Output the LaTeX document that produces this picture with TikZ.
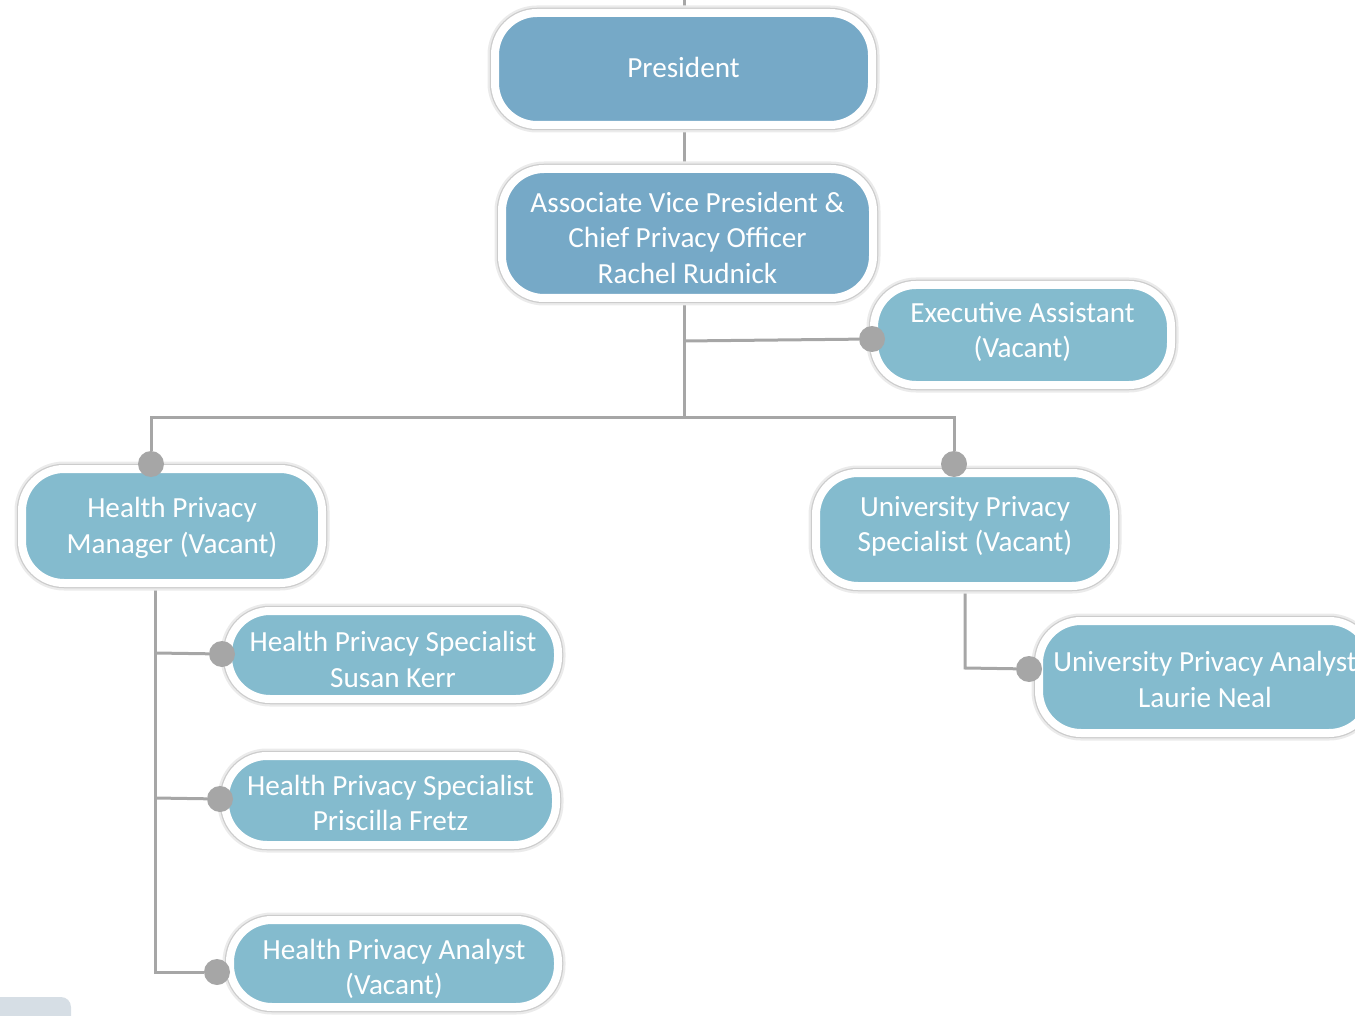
\documentclass[tikz,border=0pt]{standalone}
\usepackage{fontspec}
\setmainfont{Carlito}
\usetikzlibrary{backgrounds}
\definecolor{boxdark}{RGB}{118,169,199}
\definecolor{boxlight}{RGB}{132,187,206}
\definecolor{conn}{RGB}{166,166,166}
\definecolor{cornergray}{RGB}{214,222,229}
\tikzset{
  orgbox/.style={rectangle, rounded corners=42, draw=white, line width=8,
    fill=boxlight, text=white, align=center,
    font=\fontsize{29.2}{35.5}\selectfont, inner sep=0pt,
    preaction={draw=black!8, line width=15},
    preaction={draw=black!20, line width=10.5}},
  darkbox/.style={orgbox, fill=boxdark},
  drop/.style={text height=#1, text depth=0pt},
  dot/.style={circle, fill=conn, draw=none, minimum size=26, inner sep=0pt},
  connector/.style={draw=conn, line width=3},
}
\begin{document}
\begin{tikzpicture}[x=1pt,y=-1pt]
\useasboundingbox (0,0) rectangle (1355,1016);
\clip (0,0) rectangle (1355,1016);
\fill[cornergray] (0,1030) -- (0,997) [rounded corners=10] -- (71,997) [sharp corners] -- (71,1030) -- cycle;

% boxes
\node[darkbox, drop=17pt, minimum width=377, minimum height=112] (pres) at (683.5,69) {President};
\node[darkbox, drop=100pt, minimum width=371, minimum height=129] (avp) at (687.5,233.5)
  {Associate Vice President \&\\Chief Privacy Officer\\Rachel Rudnick};
\node[orgbox, drop=45pt, minimum width=297, minimum height=100] (exec) at (1022.5,335)
  {Executive Assistant\\(Vacant)};
\node[orgbox, drop=54pt, minimum width=300, minimum height=114] (hpm) at (172,526)
  {Health Privacy\\Manager (Vacant)};
\node[orgbox, drop=44.5pt, minimum width=298, minimum height=113] (ups) at (965,529.5)
  {University Privacy\\Specialist (Vacant)};
\node[orgbox, drop=64.5pt, minimum width=330, minimum height=88] (hps1) at (393,655)
  {Health Privacy Specialist\\Susan Kerr};
\node[orgbox, drop=60.5pt, minimum width=331, minimum height=89] (hps2) at (390.5,800.5)
  {Health Privacy Specialist\\Priscilla Fretz};
\node[orgbox, drop=62.5pt, minimum width=328, minimum height=87] (hpa) at (394,963.5)
  {Health Privacy Analyst\\(Vacant)};
\node[orgbox, drop=60.5pt, minimum width=332, minimum height=112] (upa) at (1205,677)
  {University Privacy Analyst\\Laurie Neal};

% dots
\node[dot] (dExec) at (872,339) {};
\node[dot] (dHPM) at (151,464) {};
\node[dot] (dUPS) at (954,464) {};
\node[dot] (dS1) at (222,654) {};
\node[dot] (dS2) at (220,799) {};
\node[dot] (dHPA) at (217,972) {};
\node[dot] (dUPA) at (1029,669) {};

% junctions
\coordinate (top) at (684,0);
\coordinate (j1) at (684,341);
\coordinate (j2) at (684,417);
\coordinate (jl) at (151,417);
\coordinate (jr) at (954,417);
\coordinate (js1) at (155,653);
\coordinate (js2) at (155,798);
\coordinate (jb) at (155,972);
\coordinate (ju) at (965,668);

\begin{scope}[on background layer]
\draw[connector] (top) -- (pres.north -| top);
\draw[connector] (pres.south -| top) -- (avp.north -| top);
\draw[connector] (avp.south -| top) -- (j2);
\draw[connector] (j1) -- (dExec);
\draw[connector] (dHPM) -- (jl) -- (jr) -- (dUPS);
\draw[connector] (hpm.south -| jb) -- (jb) -- (dHPA);
\draw[connector] (js1) -- (dS1);
\draw[connector] (js2) -- (dS2);
\draw[connector] (ups.south) -- (ju) -- (dUPA);
\end{scope}
\end{tikzpicture}
\end{document}
